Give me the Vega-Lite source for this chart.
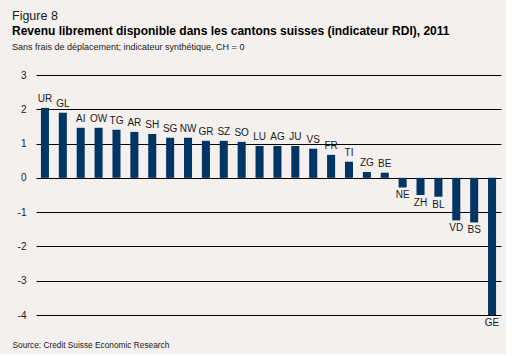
{
  "$schema": "https://vega.github.io/schema/vega-lite/v6.json",
  "background": "#f3f0ed",
  "padding": {"left": 0, "top": 9, "right": 5, "bottom": 5},
  "title": {"text": "Figure 8", "anchor": "start", "fontSize": 12.5, "fontWeight": "normal", "font": "Liberation Sans", "color": "#1a1a1a", "dx": 12, "offset": 3},
  "vconcat": [
    {
      "width": 465,
      "height": 240,
      "title": {
        "text": "Revenu librement disponible dans les cantons suisses (indicateur RDI), 2011",
        "subtitle": "Sans frais de déplacement; indicateur synthétique, CH = 0",
        "anchor": "start",
        "dx": 12,
        "font": "Liberation Sans",
        "fontSize": 12,
        "fontWeight": "bold",
        "color": "#000000",
        "subtitleFont": "Liberation Sans",
        "subtitleFontSize": 9,
        "subtitleColor": "#1a1a1a",
        "subtitlePadding": 5,
        "offset": 17
      },
      "data": {
        "values": [
          {"canton": "UR", "value": 2.04},
          {"canton": "GL", "value": 1.90},
          {"canton": "AI", "value": 1.46},
          {"canton": "OW", "value": 1.46},
          {"canton": "TG", "value": 1.40},
          {"canton": "AR", "value": 1.34},
          {"canton": "SH", "value": 1.28},
          {"canton": "SG", "value": 1.17},
          {"canton": "NW", "value": 1.17},
          {"canton": "GR", "value": 1.08},
          {"canton": "SZ", "value": 1.08},
          {"canton": "SO", "value": 1.05},
          {"canton": "LU", "value": 0.93},
          {"canton": "AG", "value": 0.93},
          {"canton": "JU", "value": 0.93},
          {"canton": "VS", "value": 0.85},
          {"canton": "FR", "value": 0.67},
          {"canton": "TI", "value": 0.47},
          {"canton": "ZG", "value": 0.17},
          {"canton": "BE", "value": 0.15},
          {"canton": "NE", "value": -0.28},
          {"canton": "ZH", "value": -0.50},
          {"canton": "BL", "value": -0.55},
          {"canton": "VD", "value": -1.24},
          {"canton": "BS", "value": -1.30},
          {"canton": "GE", "value": -4.0}
        ]
      },
      "encoding": {
        "x": {
          "field": "canton",
          "type": "nominal",
          "sort": null,
          "scale": {"paddingInner": 0.55, "paddingOuter": 0.275},
          "axis": {
            "labels": false,
            "ticks": false,
            "domain": false,
            "title": "Source: Credit Suisse Economic Research",
            "titleFont": "Liberation Sans",
            "titleFontSize": 8.3,
            "titleFontWeight": "normal",
            "titleColor": "#1a1a1a",
            "titleAnchor": "start",
            "titleAlign": "left",
            "titleX": -24,
            "titleY": 32,
            "titleBaseline": "alphabetic"
          }
        },
        "y": {
          "field": "value",
          "type": "quantitative",
          "scale": {"domain": [-4, 3], "nice": false},
          "axis": {
            "title": null,
            "values": [-4, -3, -2, -1, 0, 1, 2, 3],
            "labelExpr": "'' + datum.value",
            "ticks": false,
            "domain": false,
            "grid": true,
            "gridColor": "#000000",
            "gridWidth": 1,
            "gridOpacity": 1,
            "labelPadding": 10,
            "labelFont": "Liberation Sans",
            "labelFontSize": 10,
            "labelColor": "#1a1a1a",
            "minExtent": 36
          }
        }
      },
      "layer": [
        {"mark": {"type": "bar", "color": "#003664"}},
        {
          "transform": [{"filter": "datum.value >= 0"}],
          "mark": {"type": "text", "baseline": "alphabetic", "dy": -6, "font": "Liberation Sans", "fontSize": 10, "color": "#1a1a1a"},
          "encoding": {"text": {"field": "canton"}}
        },
        {
          "transform": [{"filter": "datum.value < 0"}],
          "mark": {"type": "text", "baseline": "top", "dy": 3, "font": "Liberation Sans", "fontSize": 10, "color": "#1a1a1a"},
          "encoding": {"text": {"field": "canton"}}
        }
      ]
    }
  ],
  "config": {"view": {"stroke": null}}
}
